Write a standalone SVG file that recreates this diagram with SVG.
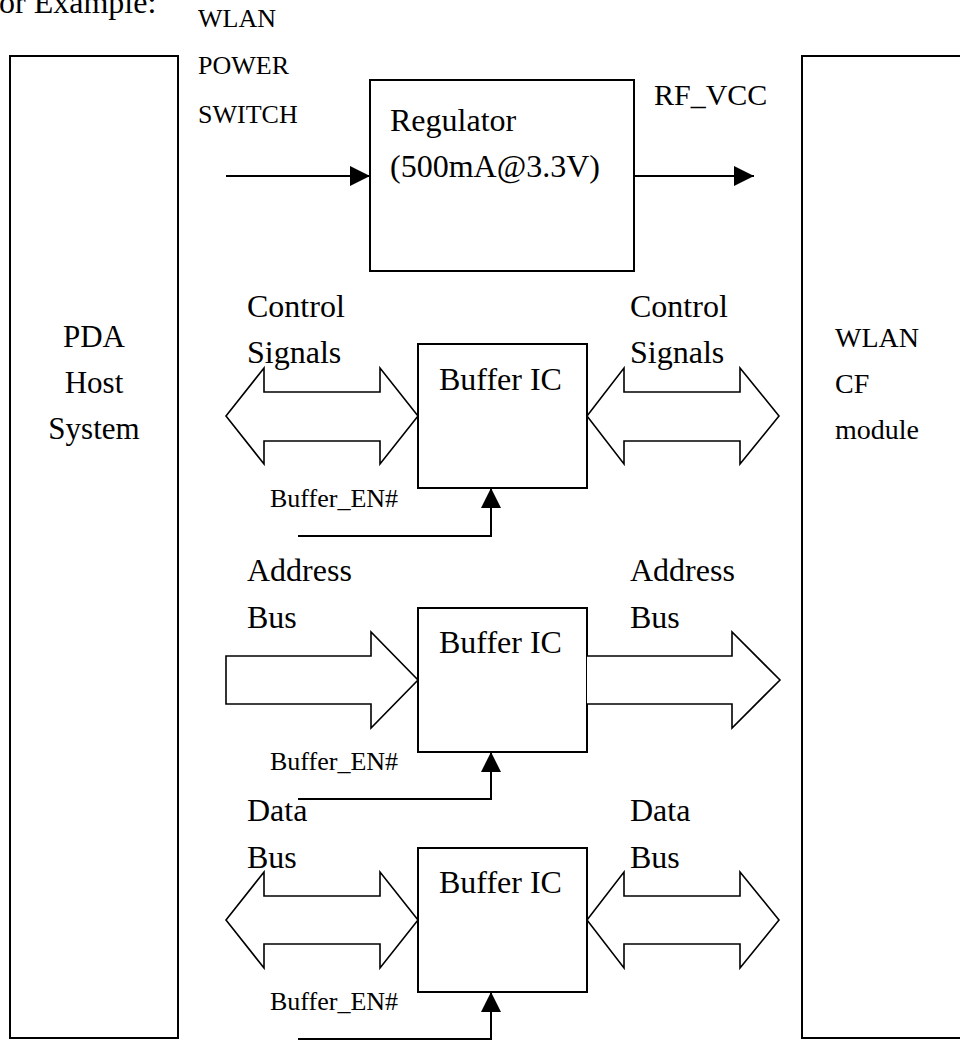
<svg xmlns="http://www.w3.org/2000/svg" width="960" height="1041" viewBox="0 0 960 1041">
<style>
text{font-family:"Liberation Serif","Times New Roman",serif;fill:#000}
.t32{font-size:32px}
.t30{font-size:30px}
.t26{font-size:26px}
.t31{font-size:31px}
.t28{font-size:28px}
.box{fill:#fff;stroke:#000;stroke-width:2}
.bus{fill:#fff;stroke:#000;stroke-width:1.6;stroke-linejoin:miter}
.wire{fill:none;stroke:#000;stroke-width:2}
</style>
<defs>
<marker id="ah" markerUnits="userSpaceOnUse" markerWidth="21" markerHeight="21" refX="20" refY="10" orient="auto">
<path d="M0,0 L20,10 L0,20 z" fill="#000"/>
</marker>
</defs>
<rect width="960" height="1041" fill="#fff"/>
<text class="t32" x="-1" y="13">or Example:</text>

<g id="pda">
<rect class="box" x="10" y="56" width="168" height="982"/>
<text class="t31" x="94" y="347" text-anchor="middle">PDA</text>
<text class="t31" x="94" y="393" text-anchor="middle">Host</text>
<text class="t31" x="94" y="439" text-anchor="middle">System</text>
</g>

<g id="wlan">
<rect class="box" x="802" y="56" width="180" height="982"/>
<text class="t28" x="835" y="347">WLAN</text>
<text class="t28" x="835" y="393">CF</text>
<text class="t28" x="835" y="439">module</text>
</g>

<g id="regulator">
<rect class="box" x="370" y="80" width="264" height="191"/>
<text class="t32" x="390" y="131">Regulator</text>
<text class="t32" x="390" y="177">(500mA@3.3V)</text>
</g>

<g id="buffer1">
<rect class="box" x="418" y="344" width="169" height="144"/>
<text class="t32" x="439" y="390">Buffer IC</text>
</g>
<g id="buffer2">
<rect class="box" x="418" y="608" width="169" height="144"/>
<text class="t32" x="439" y="653">Buffer IC</text>
</g>
<g id="buffer3">
<rect class="box" x="418" y="848" width="169" height="144"/>
<text class="t32" x="439" y="893">Buffer IC</text>
</g>

<g id="labels">
<text class="t26" x="198" y="27">WLAN</text>
<text class="t26" x="198" y="74">POWER</text>
<text class="t26" x="198" y="123">SWITCH</text>
<text class="t30" x="654" y="105">RF_VCC</text>
<text class="t32" x="247" y="317">Control</text>
<text class="t32" x="247" y="363">Signals</text>
<text class="t32" x="630" y="317">Control</text>
<text class="t32" x="630" y="363">Signals</text>
<text class="t26" x="270" y="507">Buffer_EN#</text>
<text class="t32" x="247" y="581">Address</text>
<text class="t32" x="247" y="628">Bus</text>
<text class="t32" x="630" y="581">Address</text>
<text class="t32" x="630" y="628">Bus</text>
<text class="t26" x="270" y="770">Buffer_EN#</text>
<text class="t32" x="247" y="821">Data</text>
<text class="t32" x="247" y="868">Bus</text>
<text class="t32" x="630" y="821">Data</text>
<text class="t32" x="630" y="868">Bus</text>
<text class="t26" x="270" y="1010">Buffer_EN#</text>
</g>

<g id="connectors">
<line class="wire" x1="226" y1="176" x2="370" y2="176" marker-end="url(#ah)"/>
<line class="wire" x1="634" y1="176" x2="754" y2="176" marker-end="url(#ah)"/>
<path class="bus" d="M226,416 L264,368 L264,392 L380,392 L380,368 L418,416 L380,464 L380,441 L264,441 L264,464 Z"/>
<path class="bus" d="M587,416 L624,368 L624,392 L740,392 L740,368 L779,416 L740,464 L740,441 L624,441 L624,464 Z"/>
<polyline class="wire" points="298,536 491,536 491,488" marker-end="url(#ah)"/>
<path class="bus" d="M226,656 L371,656 L371,632 L418,680 L371,728 L371,704 L226,704 Z"/>
<path class="bus" d="M587,656 L732,656 L732,632 L780,680 L732,728 L732,704 L587,704"/>
<polyline class="wire" points="298,799 491,799 491,752" marker-end="url(#ah)"/>
<path class="bus" d="M226,920 L264,872 L264,896 L380,896 L380,872 L418,920 L380,968 L380,944 L264,944 L264,968 Z"/>
<path class="bus" d="M587,920 L624,872 L624,896 L740,896 L740,872 L779,920 L740,968 L740,944 L624,944 L624,968 Z"/>
<polyline class="wire" points="298,1039 491,1039 491,992" marker-end="url(#ah)"/>
</g>
</svg>
